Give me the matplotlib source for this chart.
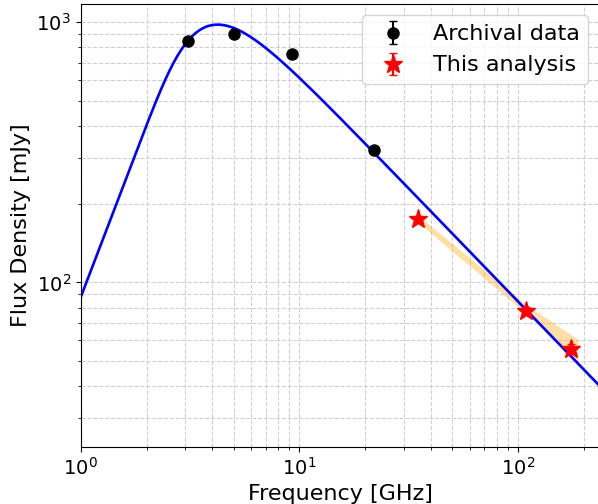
import numpy as np
import matplotlib
matplotlib.use("Agg")
import matplotlib.pyplot as plt

# Archival data
arch_freq = [3.1, 5.0, 9.2, 21.9]
arch_flux = [851, 904, 757, 322]
arch_err = [20, 22, 18, 8]

# This analysis
new_freq = [34.9, 108, 174]
new_flux = [175, 77.8, 55.5]
new_err = [5, 2.5, 2.5]

# Uncertainty band
band_freq = [34.9, 108, 187]
band_hi = [181, 82.5, 60.5]
band_lo = [170, 76.2, 49.4]

# Model fit parameters (peaked spectrum)
S0, nu0, k_idx, alpha = 1505.0, 3.64, 2.2, -0.87


def model(nu):
    x = nu / nu0
    return S0 * x ** k_idx * (1.0 - np.exp(-x ** (alpha - k_idx)))


fig = plt.figure(figsize=(5.98, 5.04), dpi=100)
W, H = 598.0, 504.0
ax = fig.add_axes([80.7 / W, (H - 446.7) / H, (599.5 - 80.7) / W, (446.7 - 4.3) / H])

nu = np.logspace(0, np.log10(240), 500)
ax.plot(nu, model(nu), color="blue", lw=1.9, zorder=2)

ax.fill_between(band_freq, band_lo, band_hi, color="orange", alpha=0.35, lw=0, zorder=1)

ax.errorbar(arch_freq, arch_flux, yerr=arch_err, fmt="o", color="black",
            markersize=8, capsize=3, label="Archival data", zorder=3)
ax.errorbar(new_freq, new_flux, yerr=new_err, fmt="*", color="red",
            markersize=14, capsize=3, label="This analysis", zorder=4)

ax.set_xscale("log")
ax.set_yscale("log")
ax.set_xlim(1, 10 ** (2 + (599.5 - 518.3) / 218.8))
ax.set_ylim(10 ** (2 - (446.7 - 282.3) / 260.4), 10 ** (3 + (22.3 - 4.3) / 260.4))

ax.grid(True, which="both", linestyle="--", color="#d0d0d0", lw=0.8)
ax.set_axisbelow(True)
ax.tick_params(axis="both", which="major", labelsize=14)
ax.set_xlabel("Frequency [GHz]", fontsize=16)
ax.set_ylabel("Flux Density [mJy]", fontsize=16)
ax.legend(loc="upper right", fontsize=16)

fig.savefig("out.png", dpi=100)
